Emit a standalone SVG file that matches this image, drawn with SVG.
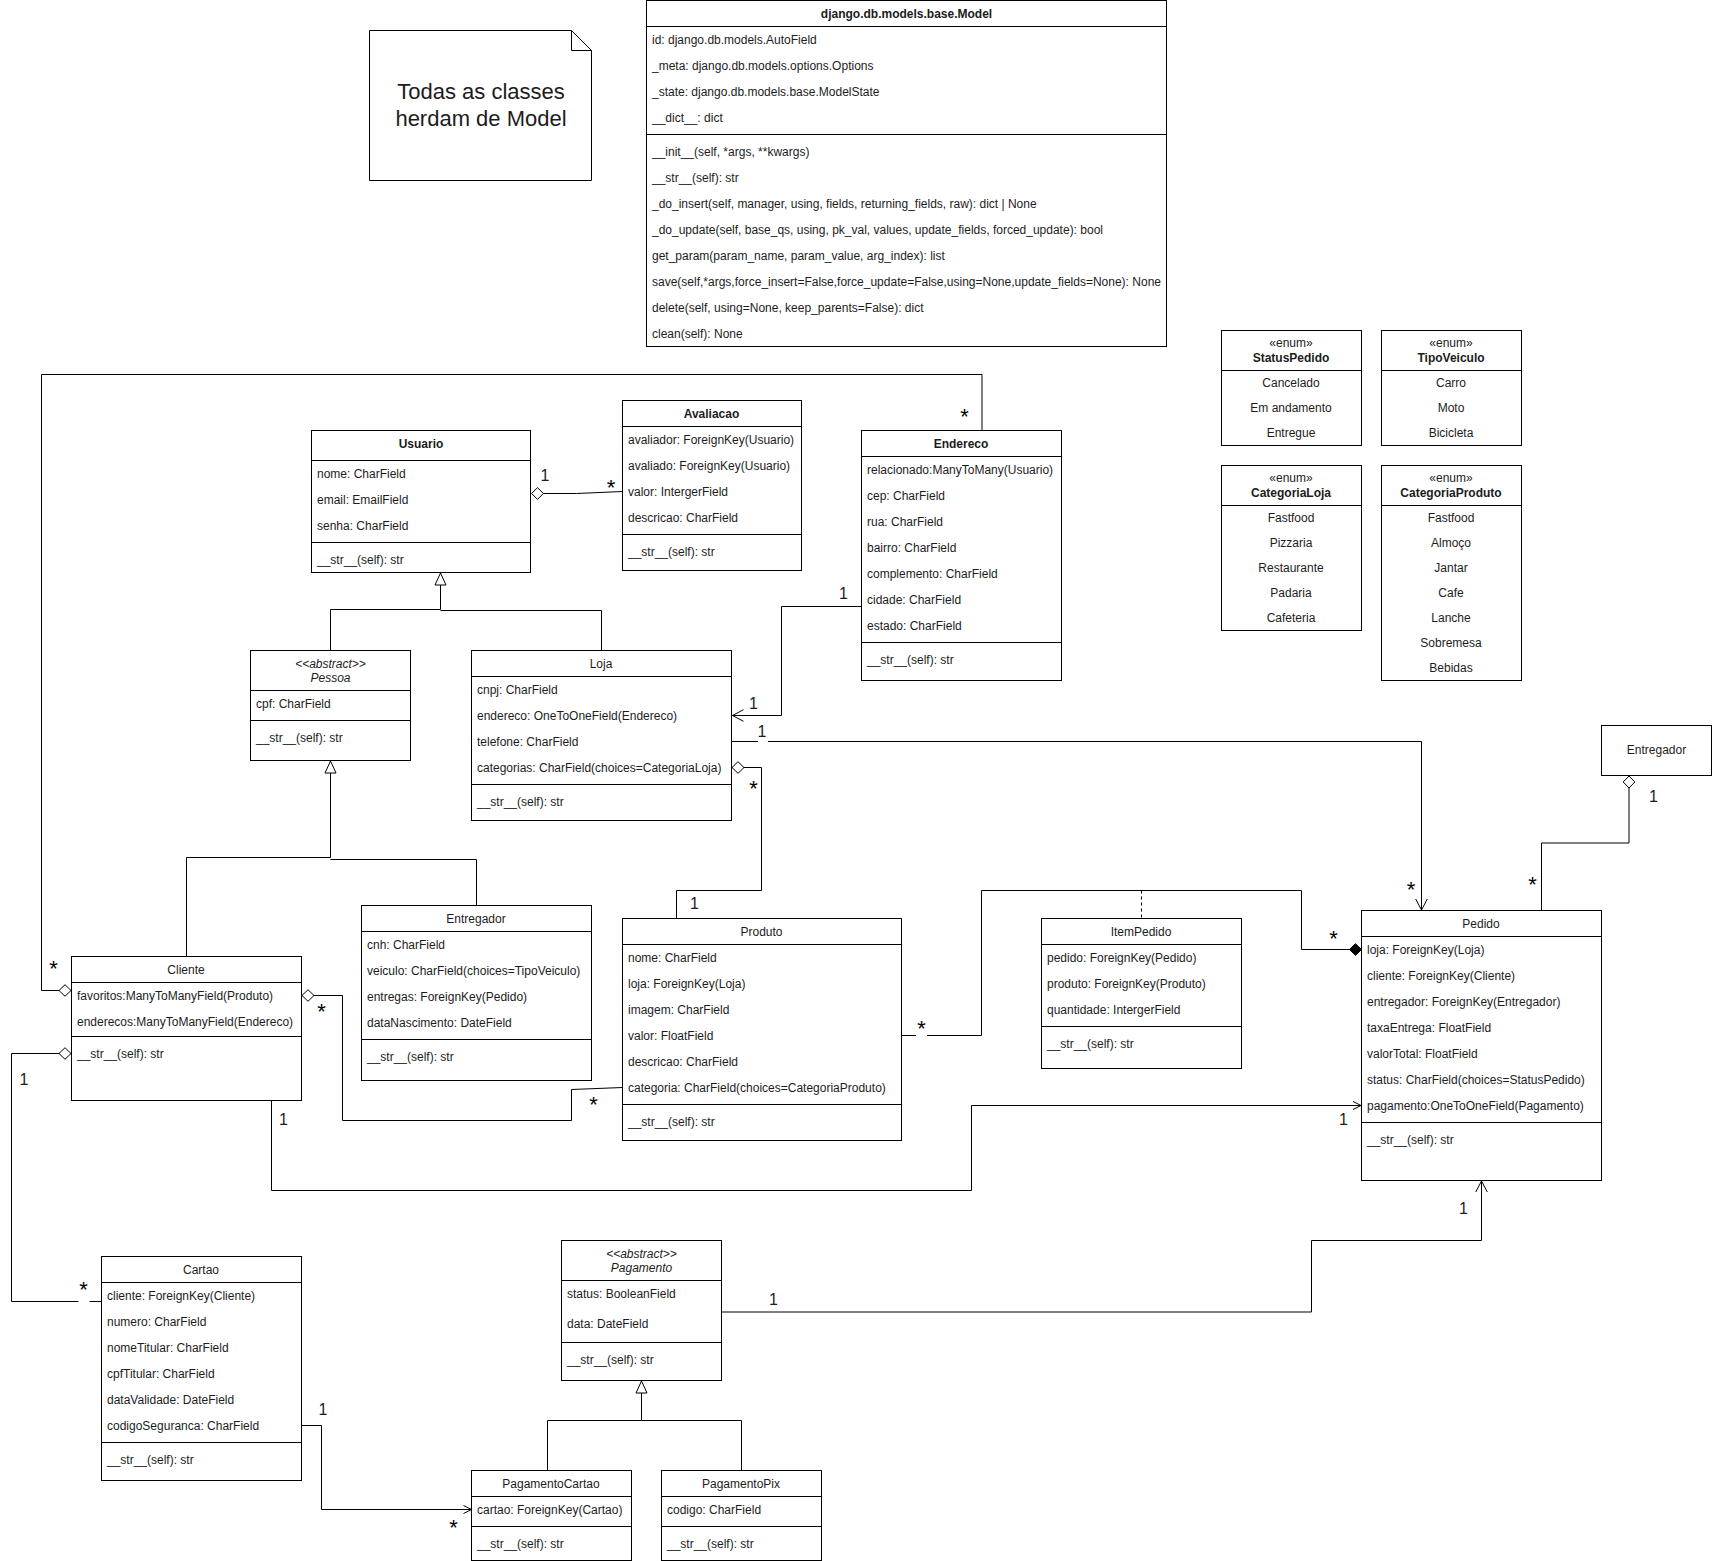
<svg xmlns="http://www.w3.org/2000/svg" width="1712" height="1561" viewBox="0 0 1712 1561">
<style>
text{font-family:"Liberation Sans",Arial,sans-serif;font-size:12px;fill:#1c1c1c}
.c{text-anchor:middle}
.b{font-weight:bold}
.i{font-style:italic}
.box{fill:#fff;stroke:#000;stroke-width:1}
.div{fill:none;stroke:#000;stroke-width:1}
.ln{fill:none;stroke:#000;stroke-width:1}
.lab{font-size:16px;text-anchor:middle}
.star{font-size:22px;text-anchor:middle;fill:#000}
.note{font-size:22px;text-anchor:middle}
</style>
<defs>
<marker id="tri" markerUnits="userSpaceOnUse" markerWidth="14" markerHeight="14" refX="13" refY="7" orient="auto"><path d="M1,1.5L13,7L1,12.5Z" fill="#fff" stroke="#000"/></marker>
<marker id="dia" markerUnits="userSpaceOnUse" markerWidth="14" markerHeight="14" refX="13" refY="7" orient="auto"><path d="M1,7L7,1.2L13,7L7,12.8Z" fill="#fff" stroke="#000"/></marker>
<marker id="fdia" markerUnits="userSpaceOnUse" markerWidth="14" markerHeight="14" refX="13" refY="7" orient="auto"><path d="M1,7L7,1.2L13,7L7,12.8Z" fill="#000" stroke="#000"/></marker>
<marker id="open" markerUnits="userSpaceOnUse" markerWidth="14" markerHeight="14" refX="12" refY="7" orient="auto"><path d="M1,1.2L12,7L1,12.8" fill="none" stroke="#000"/></marker>
<marker id="opens" markerUnits="userSpaceOnUse" markerWidth="12" markerHeight="12" refX="9" refY="6" orient="auto"><path d="M1,2L9,6L1,10" fill="none" stroke="#000"/></marker>
</defs>
<g id="connectors">
<path class="ln" d="M622.5,491.5L576.5,493.5H531.5" marker-end="url(#dia)"/>
<path class="ln" d="M330.5,650.5V609.5H440.5V573" marker-end="url(#tri)"/>
<path class="ln" d="M601.5,650.5V610.5H440.5"/>
<path class="ln" d="M861.5,606.5H781.5V715.5H732.5" marker-end="url(#open)"/>
<path class="ln" d="M731.5,741.5H758M768,741.5H1421.5V910" marker-end="url(#open)"/>
<path class="ln" d="M676.5,918.5V890.5H761.5V767.5H732" marker-end="url(#dia)"/>
<path class="ln" d="M186.5,956.5V857.5H330.5V761" marker-end="url(#tri)"/>
<path class="ln" d="M476.5,905.5V859.5H330.5"/>
<path class="ln" d="M982,430V374.5H41.5V990.5H71" marker-end="url(#dia)"/>
<path class="ln" d="M622.5,1087.5L571.5,1089.5V1120.5H342.5V995.5H302" marker-end="url(#dia)"/>
<path class="ln" d="M71,1053.5H11.5V1301.5H78.5M89.5,1301.5H101.5"/>
<path class="ln" d="M23,1053.5H71" marker-end="url(#dia)"/>
<path class="ln" d="M271.5,1100.5V1190.5H971.5V1105.5H1361" marker-end="url(#opens)"/>
<path class="ln" d="M901.5,1035.5H916M927,1035.5H981.5V890.5H1301.5V949.5H1361.5" marker-end="url(#fdia)"/>
<path class="ln" stroke-dasharray="3 3" d="M1141.5,890.5V918.5"/>
<path class="ln" d="M1541.5,910.5V843H1629V776" marker-end="url(#dia)"/>
<path class="ln" d="M721,1312H1311.5V1240.5H1481.5V1181" marker-end="url(#open)"/>
<path class="ln" d="M547.5,1470.5V1420.5H641.5V1381" marker-end="url(#tri)"/>
<path class="ln" d="M741.5,1470.5V1420.5H641.5"/>
<path class="ln" d="M301.5,1425.5H321.5V1509.5H471.5" marker-end="url(#opens)"/>
<text class="lab" x="545" y="481">1</text>
<text class="star" x="611" y="495">*</text>
<text class="star" x="964.5" y="424">*</text>
<text class="lab" x="843.5" y="599">1</text>
<text class="lab" x="753.5" y="708.5">1</text>
<text class="lab" x="762" y="737">1</text>
<text class="star" x="753.5" y="796">*</text>
<text class="lab" x="694.5" y="909">1</text>
<text class="star" x="53.5" y="976">*</text>
<text class="star" x="321.5" y="1019">*</text>
<text class="star" x="593.5" y="1112">*</text>
<text class="lab" x="24" y="1085">1</text>
<text class="star" x="83.5" y="1297">*</text>
<text class="lab" x="283.5" y="1125">1</text>
<text class="lab" x="1343.5" y="1125">1</text>
<text class="star" x="921.5" y="1036">*</text>
<text class="star" x="1333.5" y="946">*</text>
<text class="lab" x="1653.5" y="802">1</text>
<text class="star" x="1532.5" y="892">*</text>
<text class="star" x="1411" y="897">*</text>
<text class="lab" x="1463.5" y="1214">1</text>
<text class="lab" x="773.5" y="1305">1</text>
<text class="lab" x="323" y="1415">1</text>
<text class="star" x="453.5" y="1535">*</text>
</g>
<g id="note">
<path class="box" d="M369.5,30.5H571.5L591.5,50.5V180.5H369.5Z"/>
<path class="div" d="M571.5,30.5V50.5H591.5"/>
<text class="note" x="481" y="99">Todas as classes</text>
<text class="note" x="481" y="126">herdam de Model</text>
</g>
<g id="model">
<rect class="box" x="646.5" y="0.5" width="520" height="346"/>
<path class="div" d="M646.5,26.5H1166.5M646.5,134.5H1166.5"/>
<text class="c b" x="906.5" y="18">django.db.models.base.Model</text>
<text x="652" y="44">id: django.db.models.AutoField</text>
<text x="652" y="70">_meta: django.db.models.options.Options</text>
<text x="652" y="96">_state: django.db.models.base.ModelState</text>
<text x="652" y="122">__dict__: dict</text>
<text x="652" y="156">__init__(self, *args, **kwargs)</text>
<text x="652" y="182">__str__(self): str</text>
<text x="652" y="208">_do_insert(self, manager, using, fields, returning_fields, raw): dict | None</text>
<text x="652" y="234">_do_update(self, base_qs, using, pk_val, values, update_fields, forced_update): bool</text>
<text x="652" y="260">get_param(param_name, param_value, arg_index): list</text>
<text x="652" y="286">save(self,*args,force_insert=False,force_update=False,using=None,update_fields=None): None</text>
<text x="652" y="312">delete(self, using=None, keep_parents=False): dict</text>
<text x="652" y="338">clean(self): None</text>
</g>
<g id="usuario">
<rect class="box" x="311.5" y="430.5" width="219" height="142"/>
<path class="div" d="M311.5,460.5H530.5M311.5,542.5H530.5"/>
<text class="c b" x="421" y="448">Usuario</text>
<text x="317" y="478">nome: CharField</text>
<text x="317" y="504">email: EmailField</text>
<text x="317" y="530">senha: CharField</text>
<text x="317" y="564">__str__(self): str</text>
</g>
<g id="avaliacao">
<rect class="box" x="622.5" y="400.5" width="179" height="170"/>
<path class="div" d="M622.5,426.5H801.5M622.5,534.5H801.5"/>
<text class="c b" x="711.5" y="418">Avaliacao</text>
<text x="628" y="444">avaliador: ForeignKey(Usuario)</text>
<text x="628" y="470">avaliado: ForeignKey(Usuario)</text>
<text x="628" y="496">valor: IntergerField</text>
<text x="628" y="522">descricao: CharField</text>
<text x="628" y="556">__str__(self): str</text>
</g>
<g id="endereco">
<rect class="box" x="861.5" y="430.5" width="200" height="250"/>
<path class="div" d="M861.5,456.5H1061.5M861.5,642.5H1061.5"/>
<text class="c b" x="961" y="448">Endereco</text>
<text x="867" y="474">relacionado:ManyToMany(Usuario)</text>
<text x="867" y="500">cep: CharField</text>
<text x="867" y="526">rua: CharField</text>
<text x="867" y="552">bairro: CharField</text>
<text x="867" y="578">complemento: CharField</text>
<text x="867" y="604">cidade: CharField</text>
<text x="867" y="630">estado: CharField</text>
<text x="867" y="664">__str__(self): str</text>
</g>
<g id="statuspedido">
<rect class="box" x="1221.5" y="330.5" width="140" height="115"/>
<path class="div" d="M1221.5,370.5H1361.5"/>
<text class="c" x="1291" y="347">«enum»</text>
<text class="c b" x="1291" y="362">StatusPedido</text>
<text class="c" x="1291" y="387">Cancelado</text>
<text class="c" x="1291" y="412">Em andamento</text>
<text class="c" x="1291" y="437">Entregue</text>
</g>
<g id="tipoveiculo">
<rect class="box" x="1381.5" y="330.5" width="140" height="115"/>
<path class="div" d="M1381.5,370.5H1521.5"/>
<text class="c" x="1451" y="347">«enum»</text>
<text class="c b" x="1451" y="362">TipoVeiculo</text>
<text class="c" x="1451" y="387">Carro</text>
<text class="c" x="1451" y="412">Moto</text>
<text class="c" x="1451" y="437">Bicicleta</text>
</g>
<g id="categorialoja">
<rect class="box" x="1221.5" y="465.5" width="140" height="165"/>
<path class="div" d="M1221.5,505.5H1361.5"/>
<text class="c" x="1291" y="482">«enum»</text>
<text class="c b" x="1291" y="497">CategoriaLoja</text>
<text class="c" x="1291" y="522">Fastfood</text>
<text class="c" x="1291" y="547">Pizzaria</text>
<text class="c" x="1291" y="572">Restaurante</text>
<text class="c" x="1291" y="597">Padaria</text>
<text class="c" x="1291" y="622">Cafeteria</text>
</g>
<g id="categoriaproduto">
<rect class="box" x="1381.5" y="465.5" width="140" height="215"/>
<path class="div" d="M1381.5,505.5H1521.5"/>
<text class="c" x="1451" y="482">«enum»</text>
<text class="c b" x="1451" y="497">CategoriaProduto</text>
<text class="c" x="1451" y="522">Fastfood</text>
<text class="c" x="1451" y="547">Almoço</text>
<text class="c" x="1451" y="572">Jantar</text>
<text class="c" x="1451" y="597">Cafe</text>
<text class="c" x="1451" y="622">Lanche</text>
<text class="c" x="1451" y="647">Sobremesa</text>
<text class="c" x="1451" y="672">Bebidas</text>
</g>
<g id="entregador-ref">
<rect class="box" x="1601.5" y="725.5" width="110" height="50"/>
<text class="c" x="1656.5" y="754">Entregador</text>
</g>
<g id="pessoa">
<rect class="box" x="250.5" y="650.5" width="160" height="110"/>
<path class="div" d="M250.5,690.5H410.5M250.5,720.5H410.5"/>
<text class="c i" x="330.5" y="668">&lt;&lt;abstract&gt;&gt;</text>
<text class="c i" x="330.5" y="682">Pessoa</text>
<text x="256" y="708">cpf: CharField</text>
<text x="256" y="742">__str__(self): str</text>
</g>
<g id="loja">
<rect class="box" x="471.5" y="650.5" width="260" height="170"/>
<path class="div" d="M471.5,676.5H731.5M471.5,784.5H731.5"/>
<text class="c" x="601" y="668">Loja</text>
<text x="477" y="694">cnpj: CharField</text>
<text x="477" y="720">endereco: OneToOneField(Endereco)</text>
<text x="477" y="746">telefone: CharField</text>
<text x="477" y="772">categorias: CharField(choices=CategoriaLoja)</text>
<text x="477" y="806">__str__(self): str</text>
</g>
<g id="cliente">
<rect class="box" x="71.5" y="956.5" width="230" height="144"/>
<path class="div" d="M71.5,982.5H301.5M71.5,1036.5H301.5"/>
<text class="c" x="186" y="974">Cliente</text>
<text x="77" y="1000">favoritos:ManyToManyField(Produto)</text>
<text x="77" y="1026">enderecos:ManyToManyField(Endereco)</text>
<text x="77" y="1058">__str__(self): str</text>
</g>
<g id="entregador">
<rect class="box" x="361.5" y="905.5" width="230" height="175"/>
<path class="div" d="M361.5,931.5H591.5M361.5,1039.5H591.5"/>
<text class="c" x="476" y="923">Entregador</text>
<text x="367" y="949">cnh: CharField</text>
<text x="367" y="975">veiculo: CharField(choices=TipoVeiculo)</text>
<text x="367" y="1001">entregas: ForeignKey(Pedido)</text>
<text x="367" y="1027">dataNascimento: DateField</text>
<text x="367" y="1061">__str__(self): str</text>
</g>
<g id="produto">
<rect class="box" x="622.5" y="918.5" width="279" height="222"/>
<path class="div" d="M622.5,944.5H901.5M622.5,1104.5H901.5"/>
<text class="c" x="761.5" y="936">Produto</text>
<text x="628" y="962">nome: CharField</text>
<text x="628" y="988">loja: ForeignKey(Loja)</text>
<text x="628" y="1014">imagem: CharField</text>
<text x="628" y="1040">valor: FloatField</text>
<text x="628" y="1066">descricao: CharField</text>
<text x="628" y="1092">categoria: CharField(choices=CategoriaProduto)</text>
<text x="628" y="1126">__str__(self): str</text>
</g>
<g id="itempedido">
<rect class="box" x="1041.5" y="918.5" width="200" height="150"/>
<path class="div" d="M1041.5,944.5H1241.5M1041.5,1026.5H1241.5"/>
<text class="c" x="1141" y="936">ItemPedido</text>
<text x="1047" y="962">pedido: ForeignKey(Pedido)</text>
<text x="1047" y="988">produto: ForeignKey(Produto)</text>
<text x="1047" y="1014">quantidade: IntergerField</text>
<text x="1047" y="1048">__str__(self): str</text>
</g>
<g id="pedido">
<rect class="box" x="1361.5" y="910.5" width="240" height="270"/>
<path class="div" d="M1361.5,936.5H1601.5M1361.5,1122.5H1601.5"/>
<text class="c" x="1481" y="928">Pedido</text>
<text x="1367" y="954">loja: ForeignKey(Loja)</text>
<text x="1367" y="980">cliente: ForeignKey(Cliente)</text>
<text x="1367" y="1006">entregador: ForeignKey(Entregador)</text>
<text x="1367" y="1032">taxaEntrega: FloatField</text>
<text x="1367" y="1058">valorTotal: FloatField</text>
<text x="1367" y="1084">status: CharField(choices=StatusPedido)</text>
<text x="1367" y="1110">pagamento:OneToOneField(Pagamento)</text>
<text x="1367" y="1144">__str__(self): str</text>
</g>
<g id="pagamento">
<rect class="box" x="561.5" y="1240.5" width="160" height="140"/>
<path class="div" d="M561.5,1280.5H721.5M561.5,1342.5H721.5"/>
<text class="c i" x="641.5" y="1258">&lt;&lt;abstract&gt;&gt;</text>
<text class="c i" x="641.5" y="1272">Pagamento</text>
<text x="567" y="1298">status: BooleanField</text>
<text x="567" y="1328">data: DateField</text>
<text x="567" y="1364">__str__(self): str</text>
</g>
<g id="cartao">
<rect class="box" x="101.5" y="1256.5" width="200" height="224"/>
<path class="div" d="M101.5,1282.5H301.5M101.5,1442.5H301.5"/>
<text class="c" x="201" y="1274">Cartao</text>
<text x="107" y="1300">cliente: ForeignKey(Cliente)</text>
<text x="107" y="1326">numero: CharField</text>
<text x="107" y="1352">nomeTitular: CharField</text>
<text x="107" y="1378">cpfTitular: CharField</text>
<text x="107" y="1404">dataValidade: DateField</text>
<text x="107" y="1430">codigoSeguranca: CharField</text>
<text x="107" y="1464">__str__(self): str</text>
</g>
<g id="pagamentocartao">
<rect class="box" x="471.5" y="1470.5" width="160" height="90"/>
<path class="div" d="M471.5,1496.5H631.5M471.5,1526.5H631.5"/>
<text class="c" x="551" y="1488">PagamentoCartao</text>
<text x="477" y="1514">cartao: ForeignKey(Cartao)</text>
<text x="477" y="1548">__str__(self): str</text>
</g>
<g id="pagamentopix">
<rect class="box" x="661.5" y="1470.5" width="160" height="90"/>
<path class="div" d="M661.5,1496.5H821.5M661.5,1526.5H821.5"/>
<text class="c" x="741" y="1488">PagamentoPix</text>
<text x="667" y="1514">codigo: CharField</text>
<text x="667" y="1548">__str__(self): str</text>
</g>
</svg>
